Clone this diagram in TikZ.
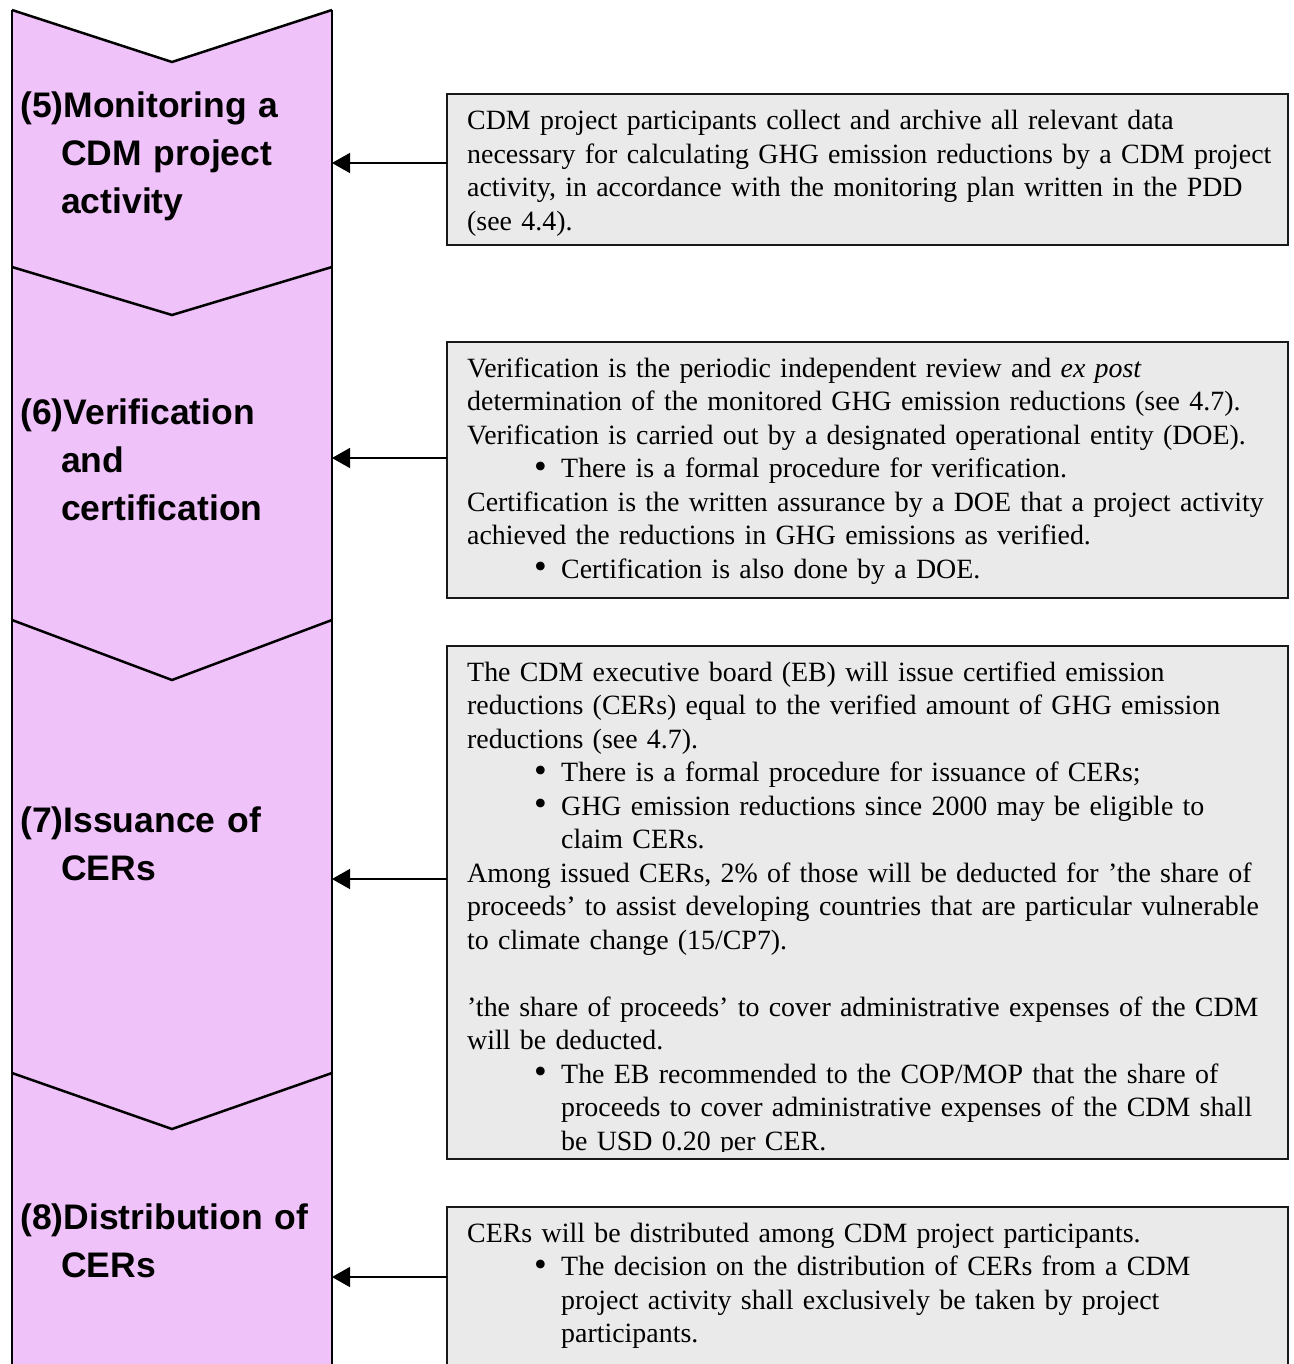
\documentclass[tikz,border=0pt]{standalone}
\usepackage{fontspec}
\setmainfont{Liberation Serif}
\setsansfont{Liberation Sans}
\usetikzlibrary{arrows.meta}
\definecolor{columnpink}{RGB}{240,194,250}
\definecolor{notegray}{RGB}{234,234,234}
% bullet line and its continuation lines inside the note boxes
\newcommand{\bulletitem}{\makebox[94pt][l]{\hspace*{67pt}\raisebox{-0.5pt}{\scalebox{1.3}{\textbullet}}}}
\newcommand{\contitem}{\hspace*{94pt}}
% hanging indent of the step titles
\newcommand{\headindent}{\hspace*{41pt}}

\begin{document}
\begin{tikzpicture}[x=1pt,y=-1pt,
  notebox/.style={draw=black!90, line width=2pt, fill=notegray, anchor=north west,
    minimum width=841pt, inner sep=0pt, outer sep=0pt},
  notetext/.style={anchor=base west, inner sep=0pt, text width=880pt, align=left,
    font=\fontsize{27.9}{33.5}\selectfont},
  steptitle/.style={anchor=base west, inner sep=0pt, text width=320pt, align=left,
    font=\fontsize{35.5}{48}\selectfont\sffamily\bfseries},
  notch/.style={line width=2.5pt, line join=miter},
  link/.style={line width=1.5pt, -{Triangle[length=18pt,width=20pt]}},
]
\useasboundingbox (0,0) rectangle (1293,1364);
\clip (0,0) rectangle (1293,1364);

% ---- process column ----
\fill[columnpink] (12,10) -- (172,62) -- (332,10) -- (332,1400) -- (12,1400) -- cycle;
\draw[line width=2pt] (12,10) -- (12,1400) (332,10) -- (332,1400);
\draw[notch] (12,10) -- (172,62) -- (332,10);
\draw[notch] (12,267) -- (172,315) -- (332,267);
\draw[notch] (12,620) -- (172,680) -- (332,620);
\draw[notch] (12,1073) -- (172,1129) -- (332,1073);

\node[steptitle] (s5) at (20,118) {(5)Monitoring a\\\headindent CDM project\\\headindent activity};
\node[steptitle] (s6) at (20,424) {(6)Verification\\\headindent and\\\headindent certification};
\node[steptitle] (s7) at (20,832) {(7)Issuance of\\\headindent CERs};
\node[steptitle] (s8) at (20,1229) {(8)Distribution of\\\headindent CERs};

\coordinate (m5) at (332,163);
\coordinate (m6) at (332,458);
\coordinate (m7) at (332,879);
\coordinate (m8) at (332,1277);

% ---- note boxes ----
\node[notebox, minimum height=151pt] (b1) at (447,94) {};
\node[notebox, minimum height=256pt] (b2) at (447,342) {};
\node[notebox, minimum height=513pt] (b3) at (447,646) {};
\node[notebox, minimum height=220pt] (b4) at (447,1207) {};

\node[notetext] (n1) at (467,130) {CDM project participants collect and archive all relevant data\\
necessary for calculating GHG emission reductions by a CDM project\\
activity, in accordance with the monitoring plan written in the PDD\\
(see 4.4).};

\node[notetext] (n2) at (467,377) {Verification is the periodic independent review and \textit{ex post}\\
determination of the monitored GHG emission reductions (see 4.7).\\
Verification is carried out by a designated operational entity (DOE).\\
\bulletitem There is a formal procedure for verification.\\
Certification is the written assurance by a DOE that a project activity\\
achieved the reductions in GHG emissions as verified.\\
\bulletitem Certification is also done by a DOE.};

\begin{scope}
\clip (447,646) rectangle (1288,1151);
\node[notetext] (n3) at (467,681) {The CDM executive board (EB) will issue certified emission\\
reductions (CERs) equal to the verified amount of GHG emission\\
reductions (see 4.7).\\
\bulletitem There is a formal procedure for issuance of CERs;\\
\bulletitem GHG emission reductions since 2000 may be eligible to\\
\contitem claim CERs.\\
Among issued CERs, 2\% of those will be deducted for ’the share of\\
proceeds’ to assist developing countries that are particular vulnerable\\
to climate change (15/CP7).\\[33.5pt]
’the share of proceeds’ to cover administrative expenses of the CDM\\
will be deducted.\\
\bulletitem The EB recommended to the COP/MOP that the share of\\
\contitem proceeds to cover administrative expenses of the CDM shall\\
\contitem be USD 0.20 per CER.};
\end{scope}

\node[notetext] (n4) at (467,1242) {CERs will be distributed among CDM project participants.\\
\bulletitem The decision on the distribution of CERs from a CDM\\
\contitem project activity shall exclusively be taken by project\\
\contitem participants.};

% ---- links from the notes to the column ----
\draw[link] (b1.west |- m5) -- (m5);
\draw[link] (b2.west |- m6) -- (m6);
\draw[link] (b3.west |- m7) -- (m7);
\draw[link] (b4.west |- m8) -- (m8);
\end{tikzpicture}
\end{document}
